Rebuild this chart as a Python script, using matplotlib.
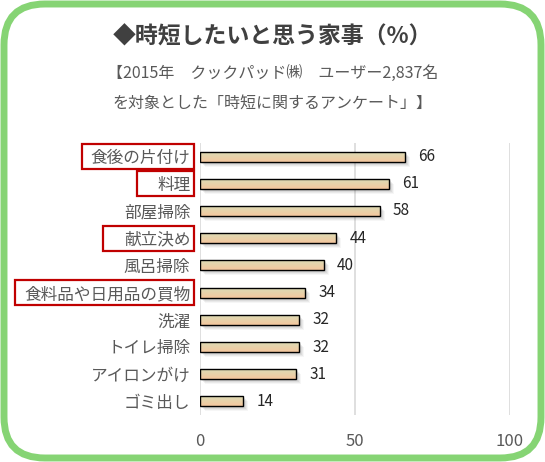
import matplotlib
matplotlib.use("Agg")
import matplotlib.pyplot as plt
import numpy as np
from matplotlib.patches import FancyBboxPatch, Rectangle
import matplotlib.transforms as mtransforms

plt.rcParams['font.family'] = ['Noto Sans CJK JP', 'DejaVu Sans']

categories = ["食後の片付け", "料理", "部屋掃除", "献立決め", "風呂掃除",
              "食料品や日用品の買物", "洗濯", "トイレ掃除", "アイロンがけ", "ゴミ出し"]
values = [66, 61, 58, 44, 40, 34, 32, 32, 31, 14]
highlighted = ["食後の片付け", "料理", "献立決め", "食料品や日用品の買物"]
x_ticks = [0, 50, 100]

title = "◆時短したいと思う家事（%）"
subtitle1 = "【2015年　クックパッド㈱　ユーザー2,837名"
subtitle2 = "を対象とした「時短に関するアンケート」】"

W, H = 545, 462
fig = plt.figure(figsize=(W / 100, H / 100), dpi=100)

# rounded green frame
frame = FancyBboxPatch((4 / W, 4 / H), 1 - 8 / W, 1 - 8 / H,
                       boxstyle="round,pad=0,rounding_size=0.075",
                       transform=fig.transFigure, fc="white", ec="#86D474",
                       lw=5, mutation_aspect=W / H, zorder=0)
fig.add_artist(frame)

ax = fig.add_axes([200 / W, 47 / H, 310 / W, 272 / H])
ax.set_zorder(2)
ax.patch.set_alpha(0)

y = np.arange(len(categories))
bar_h = 0.37
ax.set_xlim(0, 100)
ax.set_ylim(len(categories) - 0.5, -0.5)

# gradient image
grad = np.linspace(0, 1, 64).reshape(-1, 1)
c_top = np.array([0.85, 0.87, 0.72])
c_bot = np.array([0.96, 0.78, 0.62])
img = c_top[None, None, :] * (1 - grad[:, :, None]) + c_bot[None, None, :] * grad[:, :, None]

bars = ax.barh(y, values, height=bar_h, color="none", edgecolor="black", lw=1.0, zorder=4)
for b in bars:
    x0, y0 = b.get_x(), b.get_y()
    w, h = b.get_width(), b.get_height()
    # soft shadow: layered offset rectangles
    for k, (dx, a) in enumerate([(1.0, 0.10), (2.0, 0.10), (3.0, 0.09), (4.0, 0.07), (5.0, 0.05)]):
        off = mtransforms.ScaledTranslation(dx / 100, -dx / 100, fig.dpi_scale_trans)
        sh = Rectangle((x0, y0), w, h, fc="#505050", ec="none", alpha=a,
                       transform=ax.transData + off, zorder=2)
        ax.add_patch(sh)
    im = ax.imshow(img, extent=(x0, x0 + w, y0 + h, y0), aspect="auto", zorder=3, interpolation="bilinear")
    im.set_clip_path(b)

for yi, v in zip(y, values):
    ax.annotate(str(v), (v, yi), xytext=(9.5, 0), textcoords="offset points",
                va="center", ha="left", fontsize=11, color="#262626")

ax.set_yticks(y)
ax.set_yticklabels(categories, fontsize=12, color="#595959")
ax.set_xticks(x_ticks)
ax.set_xticklabels([str(t) for t in x_ticks], fontsize=12, color="#595959")
ax.tick_params(axis="both", length=0)
ax.tick_params(axis="y", pad=7)
ax.tick_params(axis="x", pad=13)
for s in ax.spines.values():
    s.set_visible(False)
ax.xaxis.grid(True, color="#D9D9D9", lw=1.2)
ax.set_axisbelow(True)
ax.set_ylim(len(categories) - 0.5, -0.5)

# red boxes around highlighted labels
trans = mtransforms.blended_transform_factory(fig.transFigure, ax.transData)
box_left = {"食後の片付け": 82, "料理": 137, "献立決め": 103, "食料品や日用品の買物": 15}
for name in highlighted:
    i = categories.index(name)
    xl = box_left[name]
    r = Rectangle((xl / W, i - 0.46), (194 - xl) / W, 0.92, transform=trans,
                  fc="none", ec="#C00000", lw=1.6, clip_on=False, zorder=5)
    fig.add_artist(r)

fig.text(0.5, 1 - 37 / H, title, ha="center", va="center", fontsize=16.5,
         fontweight="bold", color="#404040")
fig.text(0.5, 1 - 74 / H, subtitle1, ha="center", va="center", fontsize=11.5, color="#595959")
fig.text(0.5, 1 - 103 / H, subtitle2, ha="center", va="center", fontsize=11.5, color="#595959")

fig.savefig("out.png", dpi=100)
